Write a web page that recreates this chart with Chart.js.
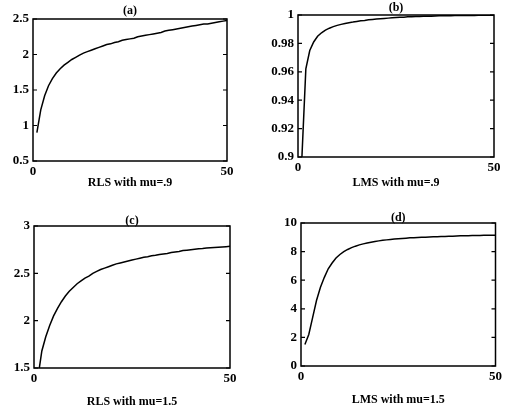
<!DOCTYPE html>
<html>
<head>
<meta charset="utf-8">
<script src="https://cdn.jsdelivr.net/npm/chart.js@4/dist/chart.umd.min.js"></script>
<style>
  html, body { margin: 0; padding: 0; background: #fff; }
  body { width: 505px; height: 409px; position: relative; overflow: hidden; }
  .pane { position: absolute; }
</style>
</head>
<body>
<div class="pane" style="left:0;top:0;width:252px;height:204px"><canvas id="ca"></canvas></div>
<div class="pane" style="left:252px;top:0;width:253px;height:204px"><canvas id="cb"></canvas></div>
<div class="pane" style="left:0;top:204px;width:252px;height:205px"><canvas id="cc"></canvas></div>
<div class="pane" style="left:252px;top:204px;width:253px;height:205px"><canvas id="cd"></canvas></div>
<script>
// ---------------- data ----------------
const iterations = [1,2,3,4,5,6,7,8,9,10,11,12,13,14,15,16,17,18,19,20,21,22,23,24,25,
  26,27,28,29,30,31,32,33,34,35,36,37,38,39,40,41,42,43,44,45,46,47,48,49,50];

const rlsMu09 = [0.90,1.22,1.42,1.56,1.66,1.74,1.80,1.85,1.89,1.93,1.96,1.99,2.02,2.04,2.06,
  2.08,2.10,2.12,2.14,2.15,2.17,2.18,2.20,2.21,2.22,2.23,2.25,2.26,2.27,2.28,2.29,2.30,2.31,
  2.33,2.34,2.35,2.36,2.37,2.38,2.39,2.40,2.41,2.42,2.43,2.43,2.44,2.45,2.46,2.47,2.48];

const lmsMu09 = [0.900,0.962,0.975,0.981,0.985,0.9875,0.9893,0.9907,0.9918,0.9927,0.9934,0.9940,
  0.9946,0.9950,0.9955,0.9959,0.9962,0.9966,0.9969,0.9972,0.9974,0.9976,0.9978,0.9980,0.9982,
  0.9984,0.9985,0.9987,0.9988,0.9989,0.9990,0.9991,0.9992,0.9992,0.9993,0.9994,0.9994,0.9995,
  0.9995,0.9996,0.9996,0.9996,0.9997,0.9997,0.9997,0.9998,0.9998,0.9998,0.9998,0.9998];

const rlsMu15 = [1.40,1.68,1.83,1.95,2.05,2.13,2.20,2.26,2.31,2.35,2.39,2.42,2.45,2.47,2.50,
  2.52,2.54,2.555,2.57,2.585,2.60,2.61,2.62,2.63,2.64,2.65,2.66,2.67,2.675,2.685,2.69,2.70,
  2.705,2.71,2.72,2.725,2.73,2.74,2.745,2.75,2.755,2.76,2.763,2.767,2.77,2.773,2.776,2.779,
  2.782,2.785];

const lmsMu15 = [1.5,2.2,3.4,4.6,5.5,6.2,6.8,7.2,7.55,7.8,8.0,8.15,8.28,8.38,8.47,8.54,8.60,
  8.66,8.71,8.75,8.79,8.82,8.85,8.88,8.90,8.92,8.94,8.96,8.97,8.99,9.00,9.01,9.02,9.03,9.04,
  9.05,9.06,9.07,9.08,9.09,9.10,9.10,9.11,9.12,9.12,9.13,9.14,9.14,9.15,9.15];

const xTicks = [0, 50];
const xTickLabels = ['0', '50'];

const yTicksA = [0.5, 1, 1.5, 2, 2.5];
const yLabelsA = ['0.5', '1', '1.5', '2', '2.5'];
const yTicksB = [0.9, 0.92, 0.94, 0.96, 0.98, 1];
const yLabelsB = ['0.9', '0.92', '0.94', '0.96', '0.98', '1'];
const yTicksC = [1.5, 2, 2.5, 3];
const yLabelsC = ['1.5', '2', '2.5', '3'];
const yTicksD = [0, 2, 4, 6, 8, 10];
const yLabelsD = ['0', '2', '4', '6', '8', '10'];

const panelTitles = ['(a)', '(b)', '(c)', '(d)'];
const captions = ['RLS with mu=.9', 'LMS with mu=.9', 'RLS with mu=1.5', 'LMS with mu=1.5'];

// ---------------- drawing ----------------
const TICK_FONT = { family: '"Liberation Serif", "Times New Roman", serif', size: 13, weight: 'bold' };
const CAP_FONT = { family: '"Liberation Serif", "Times New Roman", serif', size: 12, weight: 'bold' };

const boxPlugin = {
  id: 'boxPlugin',
  afterDraw(chart, args, opts) {
    const { ctx, chartArea: a } = chart;
    const ys = chart.scales.y;
    ctx.save();
    ctx.strokeStyle = '#000';
    ctx.lineWidth = 1.5;
    ctx.strokeRect(a.left, a.top, a.right - a.left, a.bottom - a.top);
    ctx.lineWidth = 1.2;
    ys.ticks.forEach(t => {
      const py = ys.getPixelForValue(t.value);
      ctx.beginPath();
      ctx.moveTo(a.left, py); ctx.lineTo(a.left + 4, py);
      ctx.moveTo(a.right, py); ctx.lineTo(a.right - 4, py);
      ctx.stroke();
    });
    // panel title
    ctx.fillStyle = '#000';
    ctx.font = 'bold 12px "Liberation Serif", serif';
    ctx.textAlign = 'center';
    ctx.textBaseline = 'middle';
    ctx.fillText(opts.text, (a.left + a.right) / 2 + opts.dx, opts.y);
    ctx.restore();
  }
};

function makeChart(id, series, yTicks, yLabels, yMin, yMax, area, canvasH, title, titleY, caption, capPad) {
  const yAxisW = 34;
  const xAxisH = canvasH - area.b;
  return new Chart(document.getElementById(id), {
    type: 'line',
    data: {
      datasets: [{
        data: iterations.map((x, i) => ({ x: x, y: series[i] })),
        borderColor: '#000',
        borderWidth: 1.5,
        pointRadius: 0,
        tension: 0,
        fill: false
      }]
    },
    options: {
      responsive: true,
      maintainAspectRatio: false,
      animation: false,
      events: [],
      layout: { padding: { left: area.l - yAxisW, top: area.t, right: area.cw - area.r, bottom: 0 } },
      plugins: {
        legend: { display: false },
        tooltip: { enabled: false },
        boxPlugin: { text: title, y: titleY, dx: 0 }
      },
      scales: {
        x: {
          type: 'linear', min: 0, max: 50,
          grid: { display: false, drawTicks: false },
          border: { display: false },
          afterBuildTicks: s => { s.ticks = xTicks.map(v => ({ value: v })); },
          afterFit: s => { s.height = xAxisH; },
          ticks: {
            padding: 3, color: '#000', font: TICK_FONT, maxRotation: 0,
            callback: (v, i) => xTickLabels[i]
          },
          title: { display: true, text: caption, color: '#000', font: CAP_FONT, padding: { top: 0, bottom: capPad } }
        },
        y: {
          type: 'linear', min: yMin, max: yMax,
          grid: { display: false, drawTicks: false },
          border: { display: false },
          afterBuildTicks: s => { s.ticks = yTicks.map(v => ({ value: v })); },
          afterFit: s => { s.width = yAxisW; },
          ticks: {
            padding: 4, color: '#000', font: TICK_FONT,
            callback: (v, i) => yLabels[i]
          }
        }
      }
    },
    plugins: [boxPlugin]
  });
}

makeChart('ca', rlsMu09, yTicksA, yLabelsA, 0.5, 2.5, { l: 33, t: 19, r: 227, b: 161, cw: 252 }, 204, panelTitles[0], 11, captions[0], 13.8);
makeChart('cb', lmsMu09, yTicksB, yLabelsB, 0.9, 1.0, { l: 46, t: 15, r: 242, b: 157, cw: 253 }, 204, panelTitles[1], 8, captions[1], 13.8);
makeChart('cc', rlsMu15, yTicksC, yLabelsC, 1.5, 3.0, { l: 34, t: 22, r: 230, b: 164, cw: 252 }, 205, panelTitles[2], 17, captions[2], 0);
makeChart('cd', lmsMu15, yTicksD, yLabelsD, 0, 10, { l: 49, t: 19, r: 245, b: 162, cw: 253 }, 205, panelTitles[3], 14, captions[3], 1.8);
</script>
</body>
</html>
